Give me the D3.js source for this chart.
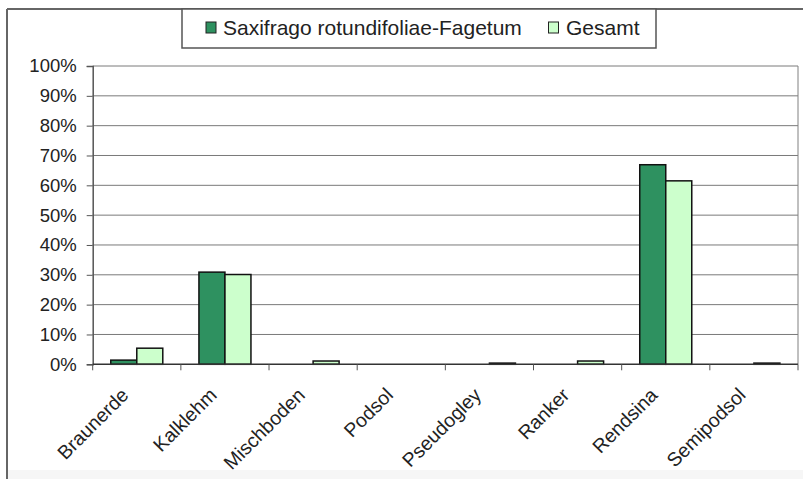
<!DOCTYPE html>
<html><head><meta charset="utf-8">
<script src="https://cdn.jsdelivr.net/npm/d3@7"></script>
<style>
html,body{margin:0;padding:0;background:#fff;}
svg{display:block;font-family:"Liberation Sans",Arial,sans-serif;}
</style></head>
<body>
<svg id="chart" width="803" height="479"></svg>
<script>
const categories = ["Braunerde","Kalklehm","Mischboden","Podsol","Pseudogley","Ranker","Rendsina","Semipodsol"];
const seriesNames = ["Saxifrago rotundifoliae-Fagetum","Gesamt"];
const saxifragoValues = [1.4, 30.9, 0, 0, 0, 0, 66.9, 0];
const gesamtValues = [5.4, 30.1, 1.1, 0, 0.4, 1.1, 61.5, 0.4];
const yTicks = [0,10,20,30,40,50,60,70,80,90,100];
const colors = ["#2e9160","#ccffcc"];

const svg = d3.select("#chart");
const pLeft = 92.7, pRight = 798, pTop = 66, pBottom = 364.3;

// outer frame
svg.append("rect").attr("x",7).attr("y",470).attr("width",796).attr("height",9).attr("fill","#f6f6f6");
svg.append("line").attr("x1",7).attr("x2",803).attr("y1",9).attr("y2",9).attr("stroke","#666").attr("stroke-width",2);
svg.append("line").attr("x1",7).attr("x2",7).attr("y1",9).attr("y2",479).attr("stroke","#666").attr("stroke-width",2);

const x0 = d3.scaleBand().domain(categories).range([pLeft,pRight]).paddingInner(0).paddingOuter(0);
const x1 = d3.scaleBand().domain(seriesNames).range([0,x0.bandwidth()]).paddingInner(0).paddingOuter(0.695);
const y = d3.scaleLinear().domain([0,100]).range([pBottom,pTop]);

// gridlines
svg.append("g").selectAll("line").data(yTicks.filter(d=>d>0)).join("line")
  .attr("x1",pLeft).attr("x2",pRight).attr("y1",d=>y(d)).attr("y2",d=>y(d))
  .attr("stroke","#7a7a7a").attr("stroke-width",1);
// right border of plot
svg.append("line").attr("x1",pRight).attr("x2",pRight).attr("y1",pTop).attr("y2",pBottom).attr("stroke","#808080");

// bars
const data = categories.map((c,i)=>({cat:c, vals:[saxifragoValues[i], gesamtValues[i]]}));
const g = svg.append("g");
data.forEach(d=>{
  d.vals.forEach((v,j)=>{
    if(v<=0) return;
    g.append("rect")
      .attr("x",x0(d.cat)+x1(seriesNames[j]))
      .attr("y",y(v))
      .attr("width",x1.bandwidth())
      .attr("height",Math.max(0,y(0)-y(v)))
      .attr("fill",colors[j]).attr("stroke","#111").attr("stroke-width",1.5);
  });
});

// y axis
const yAxis = d3.axisLeft(y).tickValues(yTicks).tickFormat(d=>d+"%").tickSize(6).tickPadding(10);
const ya = svg.append("g").attr("transform",`translate(${pLeft},0)`).call(yAxis);
ya.select(".domain").attr("stroke","#555").attr("stroke-width",1.5);
ya.selectAll(".tick line").attr("stroke","#555");
ya.selectAll("text").attr("font-size",18.5).attr("fill","#222").attr("font-family","Liberation Sans, Arial, sans-serif");

// x axis
const xa = svg.append("g").attr("transform",`translate(0,${pBottom})`);
xa.append("line").attr("x1",pLeft).attr("x2",pRight).attr("y1",0).attr("y2",0).attr("stroke","#333").attr("stroke-width",1.5);
const bounds = categories.map(c=>x0(c)).concat([pRight]);
xa.selectAll("line.tk").data(bounds).join("line").attr("class","tk")
  .attr("x1",d=>d).attr("x2",d=>d).attr("y1",0).attr("y2",6).attr("stroke","#555");
xa.selectAll("text").data(categories).join("text")
  .attr("transform",d=>`translate(${x0(d)+x0.bandwidth()/2-7},${32}) rotate(-45)`)
  .attr("text-anchor","end")
  .attr("font-size",19.5).attr("fill","#222").text(d=>d);

// legend
const lg = svg.append("g");
lg.append("rect").attr("x",182).attr("y",9).attr("width",474).attr("height",39)
  .attr("fill","#fff").attr("stroke","#555").attr("stroke-width",1.5);
const legX = [206, 548.5];
const txtX = [223, 566];
seriesNames.forEach((s,i)=>{
  lg.append("rect").attr("x",legX[i]).attr("y",22).attr("width",10).attr("height",11)
    .attr("fill",colors[i]).attr("stroke","#222").attr("stroke-width",1);
  lg.append("text").attr("x",txtX[i]).attr("y",34.5).attr("font-size",21).attr("fill","#222").text(s);
});
</script>
</body></html>
